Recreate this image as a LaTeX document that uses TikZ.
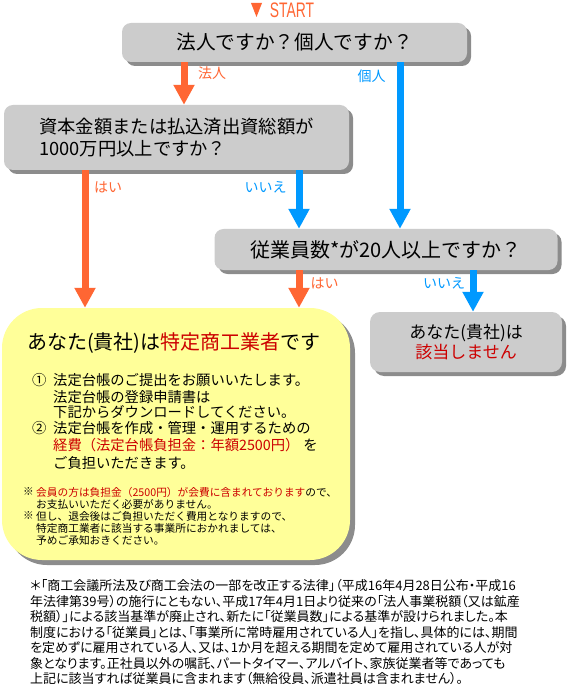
\documentclass[tikz,border=0pt]{standalone}
\usepackage{fontspec}
\usepackage{graphicx}
\setmainfont{Noto Sans CJK JP}
\newfontfamily\latinf{Liberation Sans}
\usetikzlibrary{arrows.meta,shadows}
\definecolor{myor}{HTML}{FF6633}
\definecolor{myblue}{HTML}{0099FF}
\definecolor{mygray}{HTML}{CCCCCC}
\definecolor{myyel}{HTML}{FFFF99}
\definecolor{myred}{HTML}{CC0000}
\newcommand{\fsz}[1]{\fontsize{#1}{#1}\selectfont}
\begin{document}
\begin{tikzpicture}[x=1pt,y=-1pt,
  qbox/.style={fill=mygray, rounded corners=9pt, inner sep=0pt,
    drop shadow={shadow xshift=4pt, shadow yshift=-4pt, opacity=0.45, fill=black}},
  oarr/.style={draw=myor, line width=7pt, -{Triangle[width=20pt,length=20pt]}},
  barr/.style={draw=myblue, line width=7pt, -{Triangle[width=20pt,length=20pt]}},
  olab/.style={text=myor, font=\fsz{14}, inner sep=0pt},
  blab/.style={text=myblue, font=\fsz{14}, inner sep=0pt},
  ln/.style={anchor=west, inner sep=0pt},
  big/.style={ln, font=\fsz{14.3}},
  small/.style={ln, font=\fsz{10.7}},
  foot/.style={ln, font=\fsz{13}\addfontfeatures{RawFeature=+palt}},
]
\path[use as bounding box, fill=white] (0,0) rectangle (568,684);

% START
\fill[myor] (251,3) -- (262,3) -- (256.5,17) -- cycle;
\node[inner sep=0pt, text=myor, font=\latinf\fsz{21}] (start) at (292,10) {\scalebox{0.66}[1]{START}};

% boxes
\node[qbox, minimum width=345pt, minimum height=39pt, font=\fsz{19.7}] (q1) at (294.5,42.5) {法人ですか？個人ですか？};
\node[qbox, minimum width=345pt, minimum height=65pt, font=\fontsize{18.3}{22}\selectfont, align=left] (q2) at (176.5,137.5) {資本金額または払込済出資総額が\\1000万円以上ですか？};
\node[qbox, minimum width=343pt, minimum height=41pt, font=\fsz{20}] (q3) at (386,249.5) {従業員数*が20人以上ですか？};
\node[fill=myyel, rounded corners=40pt, minimum width=348pt, minimum height=252pt, inner sep=0pt,
  drop shadow={shadow xshift=5pt, shadow yshift=-5pt, opacity=0.45, fill=black}] (yes) at (176,434) {};
\node[qbox, rounded corners=10pt, minimum width=192pt, minimum height=60pt, font=\fontsize{17}{20}\selectfont, align=center] (no) at (466,342) {あなた(貴社)は\\\textcolor{myred}{該当しません}};

% arrows
\coordinate (xa) at (184,0);
\coordinate (xb) at (400,0);
\coordinate (xc) at (85,0);
\coordinate (xd) at (299,0);
\coordinate (xe) at (473,0);
\draw[oarr] (q1.south -| xa) -- (q2.north -| xa);
\draw[barr] (q1.south -| xb) -- (q3.north -| xb);
\draw[oarr] (q2.south -| xc) -- (yes.north -| xc);
\draw[barr] (q2.south -| xd) -- (q3.north -| xd);
\draw[oarr] (q3.south -| xd) -- (yes.north -| xd);
\draw[barr] (q3.south -| xe) -- (no.north -| xe);

% labels
\node[olab] (l1) at (212,73) {法人};
\node[blab] (l2) at (371.5,76) {個人};
\node[olab] (l3) at (108,187) {はい};
\node[blab] (l4) at (265.5,187) {いいえ};
\node[olab] (l5) at (324.5,283) {はい};
\node[blab] (l6) at (444,283) {いいえ};

% yellow box contents
\node[ln, font=\fsz{20}] (t0) at (27,343) {あなた(貴社)は\textcolor{myred}{特定商工業者}です};
\node[big] (n1) at (32,380) {①};
\node[big] (t1) at (53,380) {法定台帳のご提出をお願いいたします。};
\node[big] (t2) at (53,397) {法定台帳の登録申請書は};
\node[big] (t3) at (53,412) {下記からダウンロードしてください。};
\node[big] (n2) at (32,428) {②};
\node[big] (t4) at (53,428) {法定台帳を作成・管理・運用するための};
\node[big] (t5) at (53,445) {\textcolor{myred}{経費（法定台帳負担金：年額2500円）}\hspace{4pt}を};
\node[big] (t6) at (53,463) {ご負担いただきます。};

\node[small] (m1) at (23,492) {※};
\node[small] (s1) at (36,492) {\textcolor{myred}{会員の方は負担金（2500円）が会費に含まれております}ので、};
\node[small] (s2) at (36,504) {お支払いいただく必要がありません。};
\node[small] (m2) at (23,516) {※};
\node[small] (s3) at (36,516) {但し、退会後はご負担いただく費用となりますので、};
\node[small] (s4) at (36,528) {特定商工業者に該当する事業所におかれましては、};
\node[small] (s5) at (36,540) {予めご承知おきください。};

% footnote
\node[foot] (f1) at (30,586) {＊「商工会議所法及び商工会法の一部を改正する法律」（平成16年4月28日公布・平成16};
\node[foot] (f2) at (30,601.5) {年法律第39号）の施行にともない、平成17年4月1日より従来の「法人事業税額（又は鉱産};
\node[foot] (f3) at (30,617) {税額）」による該当基準が廃止され、新たに「従業員数」による基準が設けられました。本};
\node[foot] (f4) at (30,632.5) {制度における「従業員」とは、「事業所に常時雇用されている人」を指し、具体的には、期間};
\node[foot] (f5) at (30,648) {を定めずに雇用されている人、又は、1か月を超える期間を定めて雇用されている人が対};
\node[foot] (f6) at (30,663.5) {象となります。正社員以外の嘱託、パートタイマー、アルバイト、家族従業者等であっても};
\node[foot] (f7) at (30,679) {上記に該当すれば従業員に含まれます（無給役員、派遣社員は含まれません）。};
\end{tikzpicture}
\end{document}
